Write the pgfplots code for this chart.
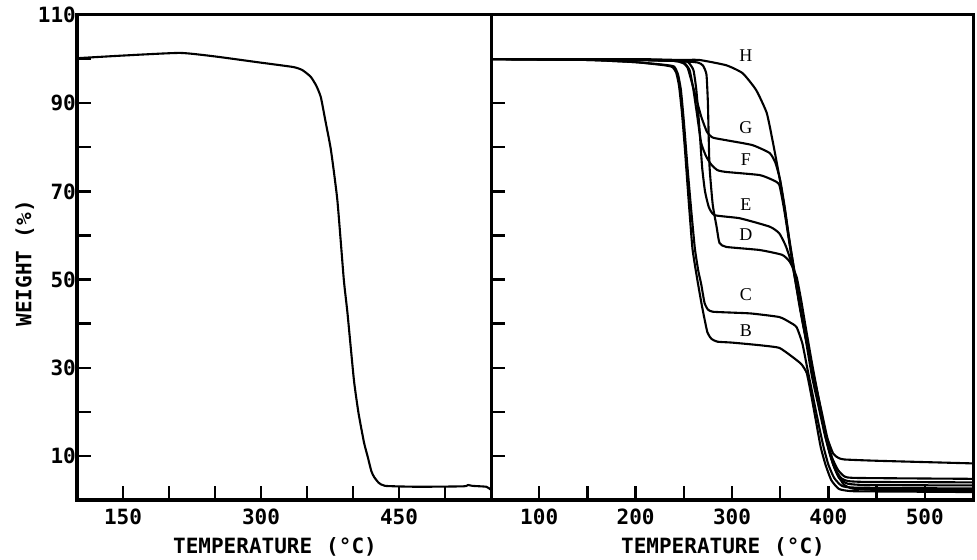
\documentclass[border=0pt]{standalone}
\usepackage{pgfplots}
\pgfplotsset{compat=1.18}
\usepackage{fontspec}
\newfontfamily\plotfont{DejaVu Sans Mono}
\newfontfamily\lblfont{Liberation Serif}
\begin{document}
\begin{tikzpicture}
\path[use as bounding box] (0,0) rectangle (977bp,560bp);
\pgfplotsset{
 panel/.style={
  scale only axis, anchor=south west, height=485bp,
  ymin=0, ymax=110, ytick={10,20,...,110},
  axis line style={line width=3bp},
  tick style={line width=2.4bp, black},
  major tick length=14bp,
  tick pos=left, tick align=inside,
  ticklabel style={font=\plotfont\bfseries\fontsize{21bp}{21bp}\selectfont, inner sep=1bp},
  xticklabel style={yshift=-8bp},
  label style={font=\plotfont\bfseries\fontsize{21bp}{21bp}\selectfont},
  xlabel style={at={(axis description cs:0.5,0)}, anchor=center, yshift=-47bp, xshift=-9bp},
  cycle list={{black, solid, mark=none}},
  every axis plot post/.append style={line width=2.1bp, black, solid, mark=none, line join=round, smooth, tension=0.3},
 }}
\begin{axis}[panel, at={(77bp,60bp)}, width=414bp, xmin=100, xmax=550,
  xtick={150,200,...,500}, xticklabels={150,,,300,,,450,},
  yticklabels={10,,30,,50,,70,,90,,110},
  xlabel={TEMPERATURE\hspace{14bp}(°C)},
  ylabel={WEIGHT (\%)},
  ylabel style={at={(axis description cs:-0.126,0.488)}, anchor=center}]
\addplot coordinates {(100,100.2) (150,100.8) (212,101.4) (250,100.6) (296,99.3) (335,98.2) (345,97.5) (354,96) (360,94) (365,91.4) (370,86) (376,79.4) (383,68) (390,50) (394,42.4) (401,27.2) (406,19.7) (412,13) (416,9.8) (420,6.5) (423,5.2) (428,3.9) (435,3.2) (470,3.0) (520,3.1) (525,3.4) (530,3.2) (545,3.0) (550,2.3)};
\end{axis}
\begin{axis}[panel, at={(491bp,60bp)}, width=482bp, xmin=50, xmax=550,
  xtick={100,150,...,500}, xticklabels={100,,200,,300,,400,,500},
  yticklabels={},
  xlabel={TEMPERATURE\hspace{14bp}(°C)}]
% B
\addplot coordinates {(50,100) (150,99.8) (200,99.3) (230,98.6) (238,98.2) (242,97) (245,94) (248,88) (251,80) (255,68) (259,57) (264,50) (269,43.8) (274.5,38) (279,36.5) (285,35.9) (300,35.7) (329,35.1) (349,34.5) (363,32.4) (372,30.8) (377.5,28.8) (382,24) (387,18) (392,12) (397,8) (403,4.5) (411,2.5) (425,2.0) (480,1.9) (550,1.8)};
% C
\addplot coordinates {(50,100) (150,99.8) (200,99.3) (230,98.7) (240,98.3) (244,96.5) (247,93) (250,86) (254,75) (258,65) (261.5,57) (265,52) (268,49) (271.5,44.7) (275,43.2) (280,42.7) (300,42.5) (320,42.3) (349,41.5) (360,40.3) (367,39.2) (373,35.5) (378,30) (384,23.5) (390,17) (395,12) (400,8) (406,5) (414,3.2) (430,2.8) (550,2.6)};
% D
\addplot coordinates {(50,100) (200,99.8) (250,99.5) (265,99.2) (270,98.5) (273.5,96.5) (275,90) (276.6,76) (280,67) (284,62) (287,58.3) (294,57.4) (328.6,56.7) (352,55.6) (360,54) (367,50.6) (372,45) (377,38.5) (383,31) (389,24) (395,17) (400,12) (405,8) (411,5) (420,3.7) (440,3.4) (550,3.3)};
% E
\addplot coordinates {(50,100) (200,99.8) (250,99.5) (255,99.2) (260,97.5) (263,93) (266,85) (269,75.5) (272,70) (276,66.4) (282,64.6) (308,63.9) (339,62) (349,60.5) (356,57.5) (363,52.8) (368,47) (374,40) (380,33) (386,26) (392,20) (398,13.5) (403,9.5) (409,6) (416,3.5) (425,2.6) (450,2.3) (550,2.2)};
% F
\addplot coordinates {(50,100) (200,99.8) (245,99.6) (250,99.3) (256,97.5) (260,93) (264,87) (268,81) (273,78) (278.7,76) (285,74.8) (294,74.4) (328.6,73.7) (342,72.6) (349,71.5) (354,66) (359,59) (364,52) (370,44) (376,37) (383,28) (389,22) (396,15) (402,10) (407,7) (413,5) (420,4.3) (440,4.1) (550,4.0)};
% G
\addplot coordinates {(50,100) (200,99.9) (240,99.6) (250,99) (254,98) (258,95) (263,91) (268,87) (274,83.5) (280,82.2) (294,81.6) (321,80.5) (339,78.7) (345,76.5) (350,72.5) (355,66) (360,58) (366,50) (372,42) (379,34) (385,27) (391,21) (398,14) (404,9.5) (410,6.8) (417,5.3) (430,5.0) (550,4.8)};
% H
\addplot coordinates {(50,100) (200,100) (245,99.8) (266,99.8) (294,98.6) (311,96.8) (325,93) (336,87.8) (342,81.6) (346,77) (351,71) (356,64) (361,57) (367,49) (373,41) (380,33) (387,26) (393,20) (399,14) (405,10.5) (410,9.6) (416,9.2) (450,8.9) (550,8.3)};
\begin{scope}[every node/.style={font=\lblfont\fontsize{18bp}{18bp}\selectfont}]
\node at (axis cs:314.5,100.9) {H};
\node at (axis cs:314.5,84.4) {G};
\node at (axis cs:314.5,77.1) {F};
\node at (axis cs:314.5,66.9) {E};
\node at (axis cs:314.5,60.1) {D};
\node at (axis cs:314.5,46.5) {C};
\node at (axis cs:314.5,38.5) {B};
\end{scope}
\end{axis}
\end{tikzpicture}
\end{document}
